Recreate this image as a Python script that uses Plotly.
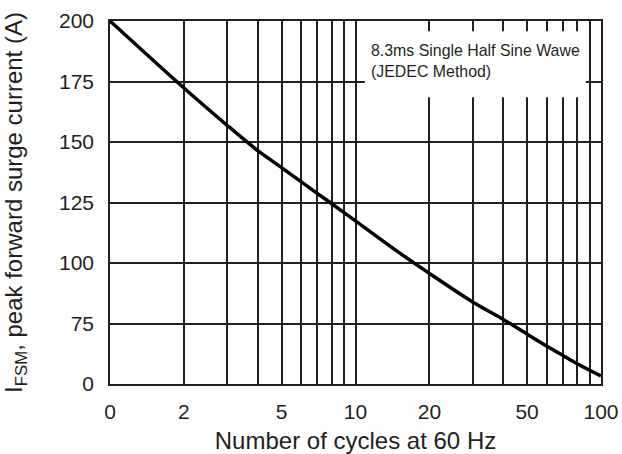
import plotly.graph_objects as go

# Data (x: number of cycles at 60 Hz, y: peak forward surge current)
cycles = [1, 2, 3, 4, 5, 6, 7, 8, 10, 15, 20, 30, 40, 50, 60, 70, 80, 100]
current = [200, 172.3, 156.9, 146.4, 139.4, 133.6, 128.7, 124.5, 117.4, 104.4,
           95.7, 83.9, 76.7, 70.6, 65.7, 61.8, 58.4, 53.3]

x_major = [1, 2, 5, 10, 20, 50, 100]
x_labels = ["0", "2", "5", "10", "20", "50", "100"]
x_minor = [3, 4, 6, 7, 8, 9, 30, 40, 60, 70, 80, 90]
y_grid = [50, 75, 100, 125, 150, 175, 200]
y_labels = ["0", "75", "100", "125", "150", "175", "200"]
note = "8.3ms Single Half Sine Wawe<br>(JEDEC Method)"

txt = "#231f20"
font = "Liberation Sans, Arial, sans-serif"

fig = go.Figure()
fig.add_trace(go.Scatter(x=cycles, y=current, mode="lines",
                         line=dict(color="#000000", width=3.5, shape="spline", smoothing=0.8),
                         showlegend=False, hoverinfo="skip"))

# white box behind the note, hiding the grid
fig.add_shape(type="rect", xref="paper", yref="paper", x0=0.519, x1=0.969, y0=0.79, y1=0.972,
              fillcolor="white", line=dict(width=0), layer="above")
fig.add_annotation(xref="paper", yref="paper", x=0.527, y=0.889, xanchor="left", yanchor="middle",
                   text=note, align="left", showarrow=False,
                   font=dict(family=font, size=15.9, color=txt))

fig.update_xaxes(type="log", range=[0, 2], tickvals=x_major, ticktext=x_labels,
                 minor=dict(tickvals=x_minor, showgrid=True, gridcolor=txt, gridwidth=1.6, ticks=""),
                 showgrid=True, gridcolor=txt, gridwidth=1.6, zeroline=False,
                 showline=True, linecolor=txt, linewidth=1.6, mirror=True,
                 ticks="", ticklabelstandoff=8, ticklabeloverflow="allow", automargin=False,
                 tickfont=dict(family=font, size=21, color=txt),
                 title=dict(text="Number of cycles at 60 Hz", standoff=20,
                            font=dict(family=font, size=24, color=txt)))
fig.update_yaxes(range=[50, 200], tickvals=y_grid, ticktext=y_labels,
                 showgrid=True, gridcolor=txt, gridwidth=1.6, zeroline=False,
                 showline=True, linecolor=txt, linewidth=1.6, mirror=True,
                 ticks="", ticklabelstandoff=10, automargin=False,
                 tickfont=dict(family=font, size=21, color=txt),
                 title=dict(text="I<sub>FSM</sub>, peak forward surge current (A)", standoff=37,
                            font=dict(family=font, size=24, color=txt)))

fig.update_layout(width=622, height=454, margin=dict(l=110, r=21, t=21, b=70),
                  paper_bgcolor="white", plot_bgcolor="white")

# remove the default page margin so the figure fills the window exactly
fig.write_html("out.html", config={"displayModeBar": False},
               post_script="document.body.style.margin='0';"
                           "document.documentElement.style.overflow='hidden';")
